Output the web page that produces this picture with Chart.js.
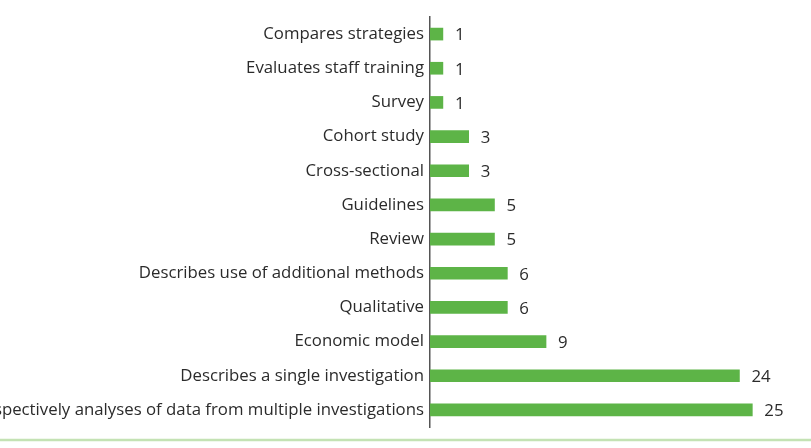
<!DOCTYPE html>
<html>
<head>
<meta charset="utf-8">
<script src="https://cdn.jsdelivr.net/npm/chart.js@4/dist/chart.umd.min.js"></script>
<style>
html,body{margin:0;padding:0;background:#fff;overflow:hidden;}
#wrap{width:811px;height:448px;position:relative;}
</style>
</head>
<body>
<div id="wrap"><canvas id="c" width="811" height="448"></canvas></div>
<script>
const categories = [
  "Compares strategies",
  "Evaluates staff training",
  "Survey",
  "Cohort study",
  "Cross-sectional",
  "Guidelines",
  "Review",
  "Describes use of additional methods",
  "Qualitative",
  "Economic model",
  "Describes a single investigation",
  "Retrospectively analyses of data from multiple investigations"
];
const counts = [1, 1, 1, 3, 3, 5, 5, 6, 6, 9, 24, 25];

const valueLabels = {
  id: 'valueLabels',
  afterDatasetsDraw(chart) {
    const ctx = chart.ctx;
    const meta = chart.getDatasetMeta(0);
    ctx.save();
    ctx.font = '16.8px "Open Sans", sans-serif';
    ctx.fillStyle = '#2b2b2b';
    ctx.textAlign = 'left';
    ctx.textBaseline = 'middle';
    meta.data.forEach((bar, i) => {
      ctx.fillText(String(counts[i]), bar.x + 12, bar.y + 1.5);
    });
    ctx.restore();
  }
};

const bottomLine = {
  id: 'bottomLine',
  afterDraw(chart) {
    const ctx = chart.ctx;
    ctx.save();
    ctx.strokeStyle = '#c4e2b4';
    ctx.lineWidth = 2.5;
    ctx.beginPath();
    ctx.moveTo(0, 440);
    ctx.lineTo(chart.width, 440);
    ctx.stroke();
    ctx.restore();
  }
};

new Chart(document.getElementById('c'), {
  type: 'bar',
  data: {
    labels: categories,
    datasets: [{
      data: counts,
      backgroundColor: '#5db447',
      barThickness: 12,
      borderWidth: 0
    }]
  },
  options: {
    indexAxis: 'y',
    responsive: false,
    animation: false,
    layout: { padding: { top: 17, bottom: 21, right: 20, left: 0 } },
    plugins: { legend: { display: false }, tooltip: { enabled: false } },
    scales: {
      x: { display: false, min: 0, max: 28 },
      y: {
        afterFit(scale) { scale.width = 430; },
        grid: { display: false, drawTicks: false },
        border: { display: true, color: '#555', width: 1.5 },
        ticks: {
          color: '#2b2b2b',
          padding: 6,
          font: { family: '"Open Sans", sans-serif', size: 16.8 }
        }
      }
    }
  },
  plugins: [valueLabels, bottomLine]
});
</script>
</body>
</html>
